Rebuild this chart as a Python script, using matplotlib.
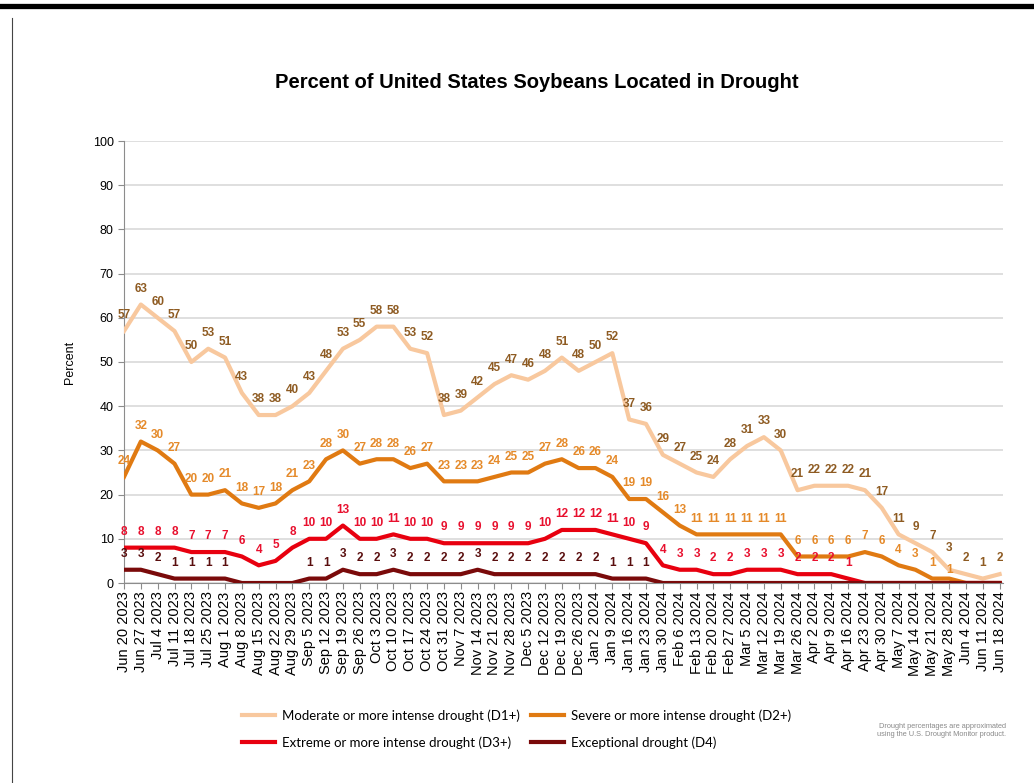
import numpy as np
import matplotlib.pyplot as plt
from matplotlib.lines import Line2D

# weekly dates, Jun 20 2023 .. Jun 18 2024
weeks = ['Jun 20 2023', 'Jun 27 2023', 'Jul 4 2023', 'Jul 11 2023', 'Jul 18 2023', 'Jul 25 2023',
         'Aug 1 2023', 'Aug 8 2023', 'Aug 15 2023', 'Aug 22 2023', 'Aug 29 2023', 'Sep 5 2023',
         'Sep 12 2023', 'Sep 19 2023', 'Sep 26 2023', 'Oct 3 2023', 'Oct 10 2023', 'Oct 17 2023',
         'Oct 24 2023', 'Oct 31 2023', 'Nov 7 2023', 'Nov 14 2023', 'Nov 21 2023', 'Nov 28 2023',
         'Dec 5 2023', 'Dec 12 2023', 'Dec 19 2023', 'Dec 26 2023', 'Jan 2 2024', 'Jan 9 2024',
         'Jan 16 2024', 'Jan 23 2024', 'Jan 30 2024', 'Feb 6 2024', 'Feb 13 2024', 'Feb 20 2024',
         'Feb 27 2024', 'Mar 5 2024', 'Mar 12 2024', 'Mar 19 2024', 'Mar 26 2024', 'Apr 2 2024',
         'Apr 9 2024', 'Apr 16 2024', 'Apr 23 2024', 'Apr 30 2024', 'May 7 2024', 'May 14 2024',
         'May 21 2024', 'May 28 2024', 'Jun 4 2024', 'Jun 11 2024', 'Jun 18 2024']

# D1+ moderate or more intense
d1 = [57, 63, 60, 57, 50, 53, 51, 43, 38, 38, 40, 43, 48, 53, 55, 58, 58, 53, 52, 38,
      39, 42, 45, 47, 46, 48, 51, 48, 50, 52, 37, 36, 29, 27, 25, 24, 28, 31, 33, 30,
      21, 22, 22, 22, 21, 17, 11, 9, 7, 3, 2, 1, 2]
# D2+ severe or more intense
d2 = [24, 32, 30, 27, 20, 20, 21, 18, 17, 18, 21, 23, 28, 30, 27, 28, 28, 26, 27, 23,
      23, 23, 24, 25, 25, 27, 28, 26, 26, 24, 19, 19, 16, 13, 11, 11, 11, 11, 11, 11,
      6, 6, 6, 6, 7, 6, 4, 3, 1, 1, 0, 0, 0]
# D3+ extreme or more intense
d3 = [8, 8, 8, 8, 7, 7, 7, 6, 4, 5, 8, 10, 10, 13, 10, 10, 11, 10, 10, 9,
      9, 9, 9, 9, 9, 10, 12, 12, 12, 11, 10, 9, 4, 3, 3, 2, 2, 3, 3, 3,
      2, 2, 2, 1, 0, 0, 0, 0, 0, 0, 0, 0, 0]
# D4 exceptional
d4 = [3, 3, 2, 1, 1, 1, 1, 0, 0, 0, 0, 1, 1, 3, 2, 2, 3, 2, 2, 2,
      2, 3, 2, 2, 2, 2, 2, 2, 2, 1, 1, 1, 0, 0, 0, 0, 0, 0, 0, 0,
      0, 0, 0, 0, 0, 0, 0, 0, 0, 0, 0, 0, 0]

names = ['Moderate or more intense drought (D1+)', 'Severe or more intense drought (D2+)',
         'Extreme or more intense drought (D3+)', 'Exceptional drought (D4)']
line_colors = ['#F8C89E', '#E07A12', '#E8000F', '#7A0A0A']
label_colors = ['#8E5B22', '#E58A2A', '#E8102E', '#5A0E0E']

fig = plt.figure(figsize=(10.34, 7.83), dpi=100)
W, H = 1034, 783

# page decorations
fig.add_artist(Line2D([0, 1], [1 - 5.5 / H, 1 - 5.5 / H], color='black', lw=3.8))
fig.add_artist(Line2D([12 / W, 12 / W], [0, 1 - 18 / H], color='#444444', lw=0.8))

ax = fig.add_axes([124 / W, (H - 583) / H, (1003 - 124) / W, (583 - 141) / H])
x = np.arange(len(weeks))

handles = []
for k, (vals, name, lc, tc) in enumerate(zip([d1, d2, d3, d4], names, line_colors, label_colors)):
    h, = ax.plot(x, vals, color=lc, lw=3, solid_joinstyle='round', label=name, zorder=3)
    handles.append(h)
    for i, v in enumerate(vals):
        if v > 0:
            dy = 7
            # crowded spot near the end: D1 label sits just above the D2 one
            if k == 0 and i == 49:
                dy = 11
            if k == 1 and i == 49:
                dy = 2
            ax.annotate(str(v), (i, v), xytext=(0, dy), textcoords='offset points',
                        ha='center', va='bottom', fontsize=8.5, fontweight='bold',
                        color=tc, family=['Liberation Sans', 'DejaVu Sans'], zorder=4)

ax.set_xlim(0, 52.2)
ax.set_ylim(0, 100)
ax.set_yticks(range(0, 101, 10))
ax.set_xticks(x)
ax.set_xticklabels(weeks, rotation=90, fontsize=10.5, family=['Liberation Sans', 'DejaVu Sans'])
for t in ax.get_yticklabels():
    t.set_fontsize(9)
    t.set_family(['Liberation Sans', 'DejaVu Sans'])
ax.grid(axis='y', color='#D9D9D9', lw=1.2, zorder=0)
for s in ['top', 'right']:
    ax.spines[s].set_visible(False)
for s in ['left', 'bottom']:
    ax.spines[s].set_color('#8C8C8C')
ax.tick_params(axis='both', colors='#8C8C8C', length=4, labelcolor='black')
ax.tick_params(axis='x', pad=2)
ax.set_ylabel('Percent', fontsize=9, family=['Liberation Sans', 'DejaVu Sans'], labelpad=12)

fig.text(537 / W, 1 - 82 / H, 'Percent of United States Soybeans Located in Drought',
         ha='center', va='center', fontsize=14.5, fontweight='bold',
         family=['Liberation Sans Narrow', 'Liberation Sans', 'DejaVu Sans'])

fig.legend([handles[0], handles[2], handles[1], handles[3]],
           [names[0], names[2], names[1], names[3]],
           ncol=2, loc='upper left', bbox_to_anchor=(242 / W, 1 - 709 / H),
           frameon=False, borderpad=0, borderaxespad=0, handlelength=2.5,
           handletextpad=0.5, columnspacing=0.9, labelspacing=1.1,
           prop={'family': ['Lato', 'DejaVu Sans'], 'size': 9.5})

fig.text(1006 / W, 1 - 730 / H,
         'Drought percentages are approximated\nusing the U.S. Drought Monitor product.',
         ha='right', va='center', fontsize=5.3, color='#8A8A8A', linespacing=1.2,
         family=['Liberation Sans Narrow', 'Liberation Sans', 'DejaVu Sans'])

fig.savefig('out.png', dpi=100)
